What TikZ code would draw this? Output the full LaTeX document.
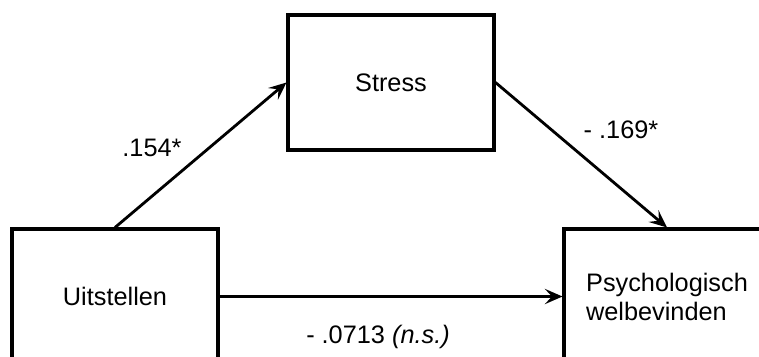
\documentclass[tikz,border=0pt]{standalone}
\usepackage{fontspec}
\setmainfont{Liberation Sans}
\usetikzlibrary{positioning, arrows.meta}

\begin{document}
\begin{tikzpicture}[x=0.03cm, y=-0.03cm,
  varbox/.style={draw, rectangle, line width=2.6pt, minimum width=6.18cm, minimum height=4.05cm, align=left, font=\fontsize{21.6}{24.7}\selectfont},
  coef/.style={font=\fontsize{21.6}{24.7}\selectfont},
  path/.style={line width=2.4pt, -{Stealth[length=15pt, width=13pt, inset=6pt]}}]
\useasboundingbox (0,0) rectangle (759,356);
\clip (0,0) rectangle (759,356);

\node[varbox] (stress) at (391,82.5) {Stress};
\node[varbox] (uit) at (115,296.5) {Uitstellen};
\node[varbox] (psy) at (667,296.5) {Psychologisch\\welbevinden};

\draw[path] (uit.north) -- (stress.west);
\draw[path] (stress.east) -- (psy.north);
\draw[path] (uit.east) -- (psy.west);

\node[coef] (a) at (152,148) {.154*};
\node[coef] (b) at (621,130) {- .169*};
\node[coef] (c) at (378,337) {- .0713 \textit{(n.s.)}};
\end{tikzpicture}
\end{document}
